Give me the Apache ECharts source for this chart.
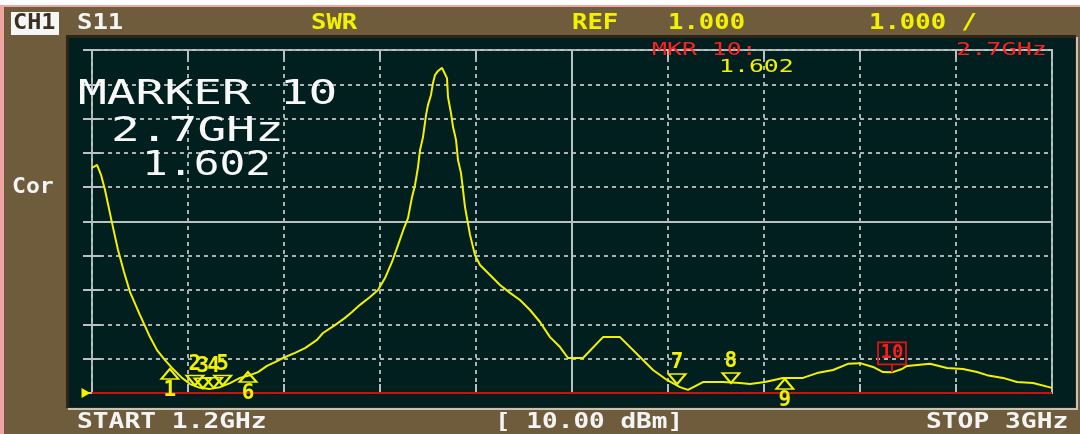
<!DOCTYPE html>
<html><head><meta charset="utf-8">
<script src="https://cdn.jsdelivr.net/npm/echarts@6/dist/echarts.min.js"></script>
<style>html,body{margin:0;padding:0;background:#fff}#c{width:1080px;height:434px}</style>
</head><body><div id="c"></div>
<script>
// ---- data (frequency in GHz, SWR) ----
const freqGHz = [1.2,1.2094,1.2169,1.2244,1.2375,1.2488,1.26,1.2713,1.29,1.3088,1.3219,1.3369,1.35,1.3688,1.3838,1.4025,1.4213,1.44,1.4588,1.4775,1.4963,1.5113,1.5281,1.5431,1.5581,1.5806,1.5994,1.6219,1.6331,1.6556,1.6744,1.6875,1.7025,1.7213,1.7363,1.7494,1.7625,1.7738,1.785,1.7925,1.8,1.8056,1.8113,1.815,1.8206,1.8263,1.83,1.8356,1.8394,1.8431,1.8488,1.8563,1.86,1.8656,1.8675,1.8731,1.8769,1.8825,1.8863,1.8919,1.8956,1.8994,1.9031,1.9088,1.9181,1.9275,1.9463,1.965,1.9838,2.0025,2.0213,2.04,2.0588,2.0775,2.0925,2.1206,2.1581,2.19,2.2331,2.2519,2.2781,2.3025,2.3175,2.3456,2.3831,2.415,2.4338,2.4619,2.4956,2.5331,2.5594,2.5894,2.6175,2.64,2.6644,2.6831,2.7,2.7188,2.7281,2.7713,2.8031,2.8331,2.8594,2.8781,2.9081,2.9344,2.9644,3.0];
const swr = [7.56,7.65,7.36,6.92,5.96,5.17,4.53,3.94,3.27,2.63,2.25,1.96,1.73,1.44,1.26,1.15,1.12,1.17,1.29,1.44,1.52,1.61,1.79,1.90,2.02,2.17,2.31,2.55,2.75,2.98,3.19,3.36,3.57,3.80,4.00,4.35,4.82,5.31,5.81,6.10,6.71,7.06,7.59,8.08,8.46,9.10,9.40,9.69,10.04,10.27,10.39,10.48,10.36,10.18,9.63,9.16,8.76,8.38,7.79,7.41,6.92,6.42,6.10,5.61,5.02,4.73,4.44,4.15,3.92,3.71,3.42,3.07,2.63,2.34,2.02,2.02,2.63,2.63,1.96,1.67,1.38,1.17,1.09,1.32,1.32,1.29,1.26,1.32,1.44,1.44,1.58,1.67,1.85,1.87,1.76,1.61,1.602,1.70,1.79,1.85,1.73,1.70,1.61,1.52,1.44,1.32,1.29,1.15];

const markerNames = ['1','2','3','4','5','6','7','8','9'];
const markerFreq  = [1.346,1.393,1.408,1.428,1.445,1.4925,2.297,2.398,2.499];
const markerSwr   = [1.70,1.22,1.14,1.15,1.22,1.61,1.26,1.29,1.41];
const markerSide  = ['below','above','above','above','above','below','above','above','below'];

const activeName = '10';
const activeFreq = 2.7;
const activeSwr = 1.602;

const startGHz = 1.2, stopGHz = 3.0;
const refValue = 1.0, scalePerDiv = 1.0, divisions = 10;

const headerTexts = {ch:'CH1', param:'S11', fmt:'SWR', refLbl:'REF', refVal:'1.000', scale:'1.000 /', cor:'Cor',
  start:'START 1.2GHz', power:'[ 10.00 dBm]', stop:'STOP 3GHz',
  mkrHead:'MKR 10:', mkrFreq:'2.7GHz', mkrVal:'1.602',
  big1:'MARKER 10', big2:'2.7GHz', big3:'1.602'};

// ---- styling ----
const YEL = '#f2f200', WHITE = '#f4f4f4', RED = '#ff2020', GRID = '#a9b1b1', FRAME = '#b9c1c1';
const BOLD = 'bold 21px "DejaVu Sans Mono"';
const THIN = '18px "DejaVu Sans Mono"';
const BIG = '33px "DejaVu Sans Mono"';

function txt(text, x, y, font, fill, sx, z) {
  return {type:'text', x:x, y:y, scaleX:sx||1, z:z||20,
    style:{text:text, font:font, fill:fill, textAlign:'left', textVerticalAlign:'middle', verticalAlign:'middle'}};
}

const chart = echarts.init(document.getElementById('c'), null, {renderer:'canvas'});

const markerData = markerNames.map((n,i)=>({
  value:[markerFreq[i], markerSwr[i]],
  symbol: markerSide[i]==='above' ? 'path://M0,0 L16,0 L8,9 Z' : 'path://M8,0 L16,9 L0,9 Z',
  symbolOffset: markerSide[i]==='above' ? [0,-5] : [0,5],
  label:{show:true, formatter:n, position: markerSide[i]==='above' ? 'top' : 'bottom', distance:0}
}));

const option = {
  animation:false,
  backgroundColor:'#ffffff',
  graphic:[
    {type:'rect', shape:{x:0,y:5,width:1080,height:429}, style:{fill:'#eea6a2'}, z:-30},
    {type:'rect', shape:{x:4,y:7,width:1076,height:427}, style:{fill:'#6f5c3d'}, z:-29},
    {type:'rect', shape:{x:68,y:37,width:1010,height:373}, style:{fill:'#c6c4b8'}, z:-28},
    {type:'rect', shape:{x:66,y:35,width:1010,height:373}, style:{fill:'#2f2516'}, z:-27},
    {type:'rect', shape:{x:69,y:38,width:1006,height:369}, style:{fill:'#001f1e'}, z:-26},
    {type:'rect', shape:{x:11,y:12,width:48,height:23}, style:{fill:'#f6f6f6'}, z:-25},
    txt(headerTexts.ch, 13, 24, BOLD, '#3a3020', 1.12),
    txt(headerTexts.param, 77, 24, BOLD, WHITE, 1.22),
    txt(headerTexts.fmt, 311, 24, BOLD, YEL, 1.22),
    txt(headerTexts.refLbl, 572, 24, BOLD, YEL, 1.22),
    txt(headerTexts.refVal, 668, 24, BOLD, YEL, 1.22),
    txt(headerTexts.scale, 869, 24, BOLD, YEL, 1.22),
    txt(headerTexts.cor, 12, 188, BOLD, WHITE, 1.1),
    txt(headerTexts.start, 77, 423, BOLD, WHITE, 1.25),
    txt(headerTexts.power, 495, 423, BOLD, WHITE, 1.24),
    txt(headerTexts.stop, 926, 423, BOLD, WHITE, 1.25),
    txt(headerTexts.mkrHead, 652, 50, THIN, RED, 1.38),
    txt(headerTexts.mkrFreq, 956, 50, THIN, RED, 1.4),
    txt(headerTexts.mkrVal, 719, 67, THIN, YEL, 1.38),
    txt(headerTexts.big1, 78, 95, BIG, '#f8f8f8', 1.45),
    txt(headerTexts.big2, 111, 132, BIG, '#f8f8f8', 1.45),
    txt(headerTexts.big3, 142, 166, BIG, '#f8f8f8', 1.3)
  ],
  grid:{left:92, top:50, width:960, height:343, show:true, borderColor:FRAME, borderWidth:2, backgroundColor:'transparent'},
  xAxis:[
    {type:'value', min:0, max:divisions, interval:1, position:'bottom',
     axisLine:{show:false}, axisLabel:{show:false},
     axisTick:{show:true, inside:true, length:9, lineStyle:{color:FRAME, width:2}},
     splitLine:{show:true, lineStyle:{color:GRID, width:2, type:[4,4]}}},
    {type:'value', min:0, max:divisions, interval:1, position:'top',
     axisLine:{show:false}, axisLabel:{show:false},
     axisTick:{show:true, inside:true, length:9, lineStyle:{color:FRAME, width:2}},
     splitLine:{show:false}},
    {type:'value', min:startGHz, max:stopGHz, show:false}
  ],
  yAxis:[
    {type:'value', min:refValue, max:refValue+scalePerDiv*divisions, interval:scalePerDiv, position:'left',
     axisLine:{show:false}, axisLabel:{show:false},
     axisTick:{show:true, inside:true, length:9, lineStyle:{color:FRAME, width:2}},
     splitLine:{show:true, lineStyle:{color:GRID, width:2, type:[4,4]}}},
    {type:'value', min:refValue, max:refValue+scalePerDiv*divisions, interval:scalePerDiv, position:'right',
     axisLine:{show:false}, axisLabel:{show:false},
     axisTick:{show:true, inside:true, length:9, lineStyle:{color:FRAME, width:2}},
     splitLine:{show:false}}
  ],
  series:[
    {type:'line', xAxisIndex:2, yAxisIndex:0, z:5,
     data: freqGHz.map((f,i)=>[f, swr[i]]),
     symbol:'none', lineStyle:{color:YEL, width:2},
     markLine:{silent:true, symbol:'none', label:{show:false}, z:3,
       data:[
         {xAxis:(startGHz+stopGHz)/2, lineStyle:{color:FRAME, width:2, type:'solid'}},
         {yAxis:refValue+scalePerDiv*divisions/2, lineStyle:{color:FRAME, width:2, type:'solid'}},
         {yAxis:refValue, lineStyle:{color:'#d01010', width:2, type:'solid'}}
       ]},
     markPoint:{silent:true, label:{show:false},
       data:[{coord:[startGHz, refValue], symbol:'path://M0,0 L9,5 L0,10 Z', symbolSize:[9,10], symbolOffset:[-6,0], itemStyle:{color:YEL}}]}
    },
    {type:'scatter', xAxisIndex:2, yAxisIndex:0, z:8,
     data: markerData, symbolSize:[17,10],
     itemStyle:{color:'rgba(0,0,0,0)', borderColor:YEL, borderWidth:2, opacity:1},
     label:{color:YEL, fontFamily:'DejaVu Sans Mono', fontWeight:'bold', fontSize:21, textBorderWidth:0}
    },
    {type:'scatter', xAxisIndex:2, yAxisIndex:0, z:9,
     data:[{value:[activeFreq, activeSwr]}],
     symbol:'path://M0,0 L28,0 L28,22 L0,22 Z M14,22 L14,30', symbolSize:[28,30], symbolOffset:[0,-15],
     itemStyle:{color:'rgba(0,0,0,0)', borderColor:'#e81010', borderWidth:1.8, opacity:1},
     label:{show:true, formatter:activeName, position:'inside', offset:[0,-4], color:'#ff1a1a',
       fontFamily:'DejaVu Sans Mono', fontWeight:'bold', fontSize:19, textBorderWidth:0}
    }
  ]
};
chart.setOption(option);
</script></body></html>
